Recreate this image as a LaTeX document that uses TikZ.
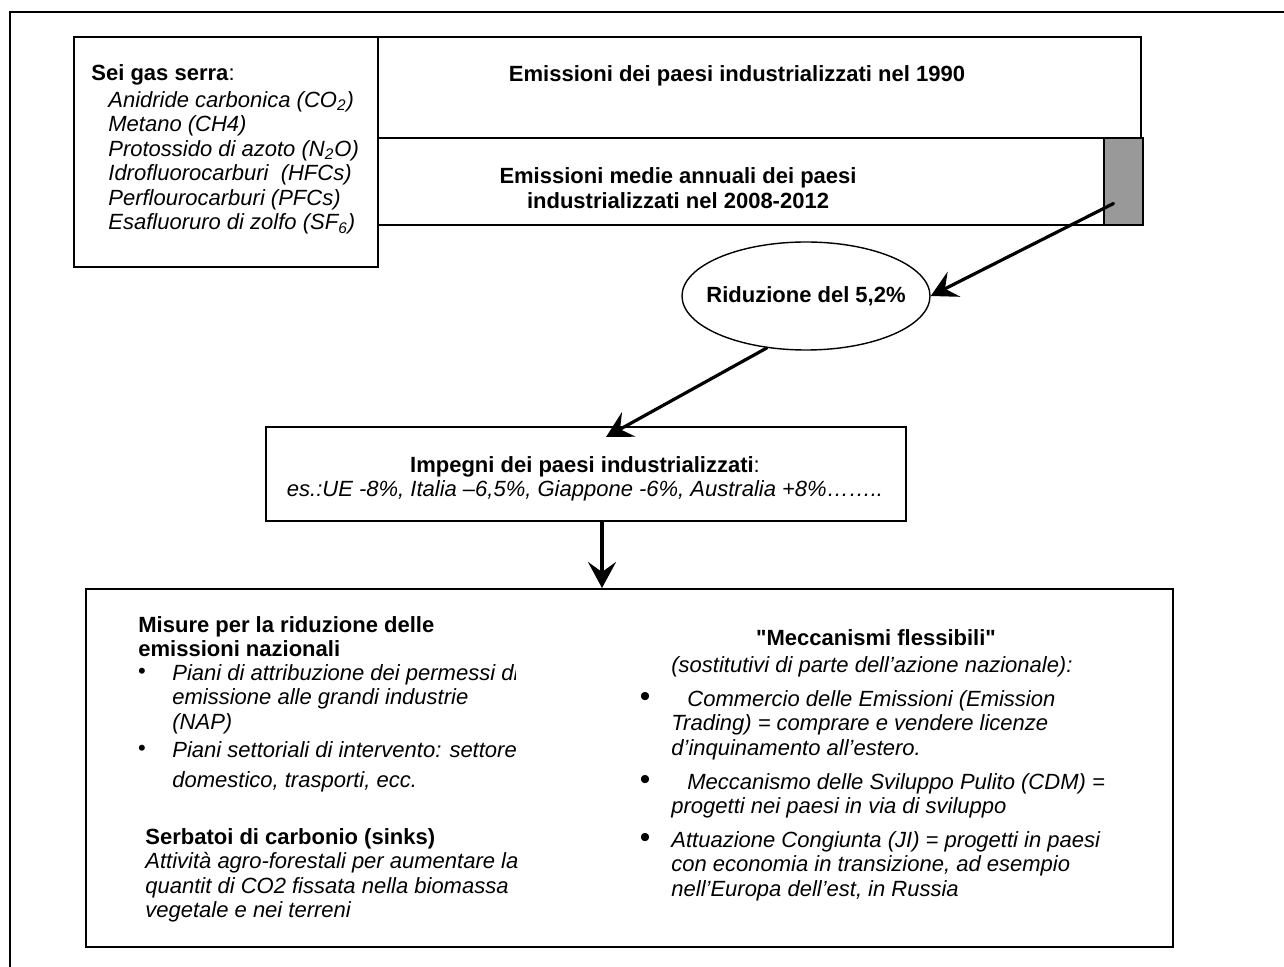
\documentclass[tikz,border=0pt]{standalone}
\usepackage{fontspec}
\setmainfont{Liberation Sans}
\usetikzlibrary{shapes,calc,positioning}
\usetikzlibrary{arrows.meta}
\definecolor{cutgray}{RGB}{153,153,153}
\tikzset{
  box/.style={rectangle, draw, line width=1pt, inner sep=0pt, anchor=north west},
  txt/.style={inner sep=0pt, align=left, anchor=north west},
  dot/.style={inner sep=0pt},
  arr/.style={-{Stealth[length=13pt,width=14pt,inset=5pt]}, line width=1.6pt, line cap=round},
}

\begin{document}
\begin{tikzpicture}%
  [x=0.5pt, y=-0.5pt, text=black, node font=\fontsize{11}{12.25}\selectfont]

  \useasboundingbox (0,0) rectangle (1284,967);
  \draw[line width=1pt] (10,12) rectangle (1300,990);

  % top row
  \node (gas) at (73,36) [box, minimum width=152pt, minimum height=115pt] {};
  \node (y1990) at (377,36) [box, minimum width=381.5pt, minimum height=50.5pt] {};
  \node (y2008) at (377,137) [box, minimum width=363pt, minimum height=43.5pt] {};
  \node (cut) at (1103,137) [box, fill=cutgray, minimum width=19.5pt, minimum height=43.5pt] {};

  \node (gast) at (91,64) [txt] {\textbf{Sei gas serra}:};
  \node (gasl) at (108,91) [txt, font=\itshape]
        {Anidride carbonica (CO\textsubscript{2})\\Metano (CH4)\\
         Protossido di azoto (N\textsubscript{2}O)\\Idrofluorocarburi\ \ (HFCs)\\
         Perflourocarburi (PFCs)\\Esafluoruro di zolfo (SF\textsubscript{6})};
  \node (y1990t) at (737,76) [font=\bfseries, inner sep=0pt]
        {Emissioni dei paesi industrializzati nel 1990};
  \node (y2008t) at (678,188) [font=\bfseries, align=center, inner sep=0pt]
        {Emissioni medie annuali dei paesi\\industrializzati nel 2008-2012};

  \node (rid) at (806,296) [ellipse, draw, line width=0.7pt, minimum width=124pt,
        minimum height=54pt, inner xsep=-6pt, inner ysep=0pt, font=\bfseries]
        {Riduzione del 5,2\%};

  \node (imp) at (265,426) [box, minimum width=320pt, minimum height=47pt] {};
  \node (impt) at (585,479) [align=center, inner sep=0pt]
        {\textbf{Impegni dei paesi industrializzati}:\\
         \textit{es.:UE -8\%, Italia –6,5\%, Giappone -6\%, Australia +8\%……..}};

  % bottom box
  \node (bot) at (85,588) [box, minimum width=543.5pt, minimum height=179pt] {};

  \node (mist) at (138,616) [txt, font=\bfseries]
        {Misure per la riduzione delle\\emissioni nazionali};
  \begin{scope}
    \clip (85,588) rectangle (515,946);
    \node (nap) at (172,664) [txt, font=\itshape]
          {Piani di attribuzione dei permessi di\\emissione alle grandi industrie\\(NAP)};
    \node (sett) at (172,741) [txt, font=\itshape]
          {Piani settoriali di intervento: settore\\[2.75pt]domestico, trasporti, ecc.};
  \end{scope}
  \node (sinkt) at (145,828) [txt]
        {\textbf{Serbatoi di carbonio (sinks)}\\
         \textit{Attività agro-forestali per aumentare la}\\
         \textit{quantit di CO2 fissata nella biomassa}\\
         \textit{vegetale e nei terreni}};
  \node (bnap) at (142,673) [dot] {•};
  \node (bsett) at (142,750) [dot] {•};

  \node (mect) at (876,629) [inner sep=0pt, anchor=north, font=\bfseries]
        {\textquotedbl Meccanismi flessibili\textquotedbl};
  \node (sost) at (671,656) [txt, font=\itshape]
        {(sostitutivi di parte dell’azione nazionale):};
  \node (et) at (671,690) [txt, font=\itshape]
        {\hspace{8pt}Commercio delle Emissioni (Emission\\
         Trading) = comprare e vendere licenze\\d’inquinamento all’estero.};
  \node (cdm) at (671,773) [txt, font=\itshape]
        {\hspace{8pt}Meccanismo delle Sviluppo Pulito (CDM) =\\
         progetti nei paesi in via di sviluppo};
  \node (ji) at (671,831) [txt, font=\itshape]
        {Attuazione Congiunta (JI) = progetti in paesi\\
         con economia in transizione, ad esempio\\nell’Europa dell’est, in Russia};
  \node (bet) at (645,699) [dot, font=\fontsize{15}{15}\selectfont] {•};
  \node (bcdm) at (645,782) [dot, font=\fontsize{15}{15}\selectfont] {•};
  \node (bji) at (645,840) [dot, font=\fontsize{15}{15}\selectfont] {•};

  % arrows
  \coordinate (gs) at ($(cut.center)+(-10,22)$);
  \draw[arr] (gs) -- (rid.east);
  \draw[arr] (rid.-127) -- ($(imp.north)+(20,11)$);
  \coordinate (d0) at ($(imp.south)+(16,0)$);
  \draw[arr] (d0) -- (d0 |- bot.north);

\end{tikzpicture}
\end{document}
